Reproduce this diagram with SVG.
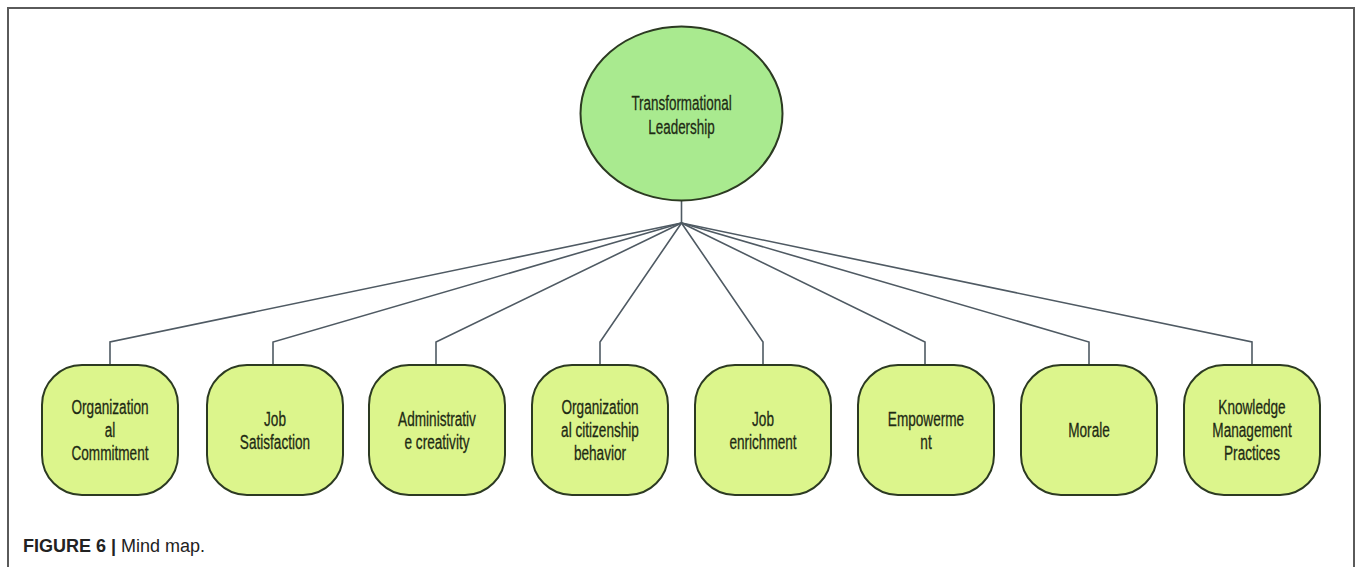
<svg xmlns="http://www.w3.org/2000/svg" width="1358" height="567" viewBox="0 0 1358 567">
<style>
.frame{fill:none;stroke:#5a5a5a;stroke-width:2}
.conn{fill:none;stroke:#4f5a63;stroke-width:1.6}
.root{fill:#a9ea8f;stroke:#2c3a22;stroke-width:2}
.leaf{fill:#dcf58c;stroke:#2c3a22;stroke-width:2}
.t{font-family:"Liberation Sans",Arial,sans-serif;font-size:20px;fill:#1e2a14;text-anchor:middle;stroke:#1e2a14;stroke-width:0.3}
.tr{font-family:"Liberation Sans",Arial,sans-serif;font-size:21px;fill:#1e2a14;text-anchor:middle;stroke:#1e2a14;stroke-width:0.3}
.cap{font-family:"Liberation Sans",Arial,sans-serif;font-size:18px;fill:#222}
</style>
<rect width="1358" height="567" fill="#fff"/>
<path class="frame" d="M8,567 V8 H1354 V567"/>
<g id="connectors">
<path class="conn" d="M681.5,200 V223"/>
<path class="conn" d="M681.5,223 L110,342 V365"/>
<path class="conn" d="M681.5,223 L273,342 V365"/>
<path class="conn" d="M681.5,223 L436,342 V365"/>
<path class="conn" d="M681.5,223 L600,342 V365"/>
<path class="conn" d="M681.5,223 L763,342 V365"/>
<path class="conn" d="M681.5,223 L925,342 V365"/>
<path class="conn" d="M681.5,223 L1089,342 V365"/>
<path class="conn" d="M681.5,223 L1252,342 V365"/>
</g>
<g id="root">
<ellipse class="root" cx="681.5" cy="113.5" rx="101" ry="87"/>
<g transform="translate(681.5,0) scale(0.64,1)">
<text class="tr" x="0" y="110">Transformational</text>
<text class="tr" x="0" y="134">Leadership</text>
</g>
</g>
<g id="n1">
<rect class="leaf" x="42" y="365" width="136" height="130" rx="40" ry="40"/>
<g transform="translate(110,0) scale(0.68,1)">
<text class="t" x="0" y="414">Organization</text>
<text class="t" x="0" y="437">al</text>
<text class="t" x="0" y="460">Commitment</text>
</g>
</g>
<g id="n2">
<rect class="leaf" x="207" y="365" width="136" height="130" rx="40" ry="40"/>
<g transform="translate(275,0) scale(0.68,1)">
<text class="t" x="0" y="426">Job</text>
<text class="t" x="0" y="449">Satisfaction</text>
</g>
</g>
<g id="n3">
<rect class="leaf" x="369" y="365" width="136" height="130" rx="40" ry="40"/>
<g transform="translate(437,0) scale(0.68,1)">
<text class="t" x="0" y="426">Administrativ</text>
<text class="t" x="0" y="449">e creativity</text>
</g>
</g>
<g id="n4">
<rect class="leaf" x="532" y="365" width="136" height="130" rx="40" ry="40"/>
<g transform="translate(600,0) scale(0.68,1)">
<text class="t" x="0" y="414">Organization</text>
<text class="t" x="0" y="437">al citizenship</text>
<text class="t" x="0" y="460">behavior</text>
</g>
</g>
<g id="n5">
<rect class="leaf" x="695" y="365" width="136" height="130" rx="40" ry="40"/>
<g transform="translate(763,0) scale(0.68,1)">
<text class="t" x="0" y="426">Job</text>
<text class="t" x="0" y="449">enrichment</text>
</g>
</g>
<g id="n6">
<rect class="leaf" x="858" y="365" width="136" height="130" rx="40" ry="40"/>
<g transform="translate(926,0) scale(0.68,1)">
<text class="t" x="0" y="426">Empowerme</text>
<text class="t" x="0" y="449">nt</text>
</g>
</g>
<g id="n7">
<rect class="leaf" x="1021" y="365" width="136" height="130" rx="40" ry="40"/>
<g transform="translate(1089,0) scale(0.68,1)">
<text class="t" x="0" y="437">Morale</text>
</g>
</g>
<g id="n8">
<rect class="leaf" x="1184" y="365" width="136" height="130" rx="40" ry="40"/>
<g transform="translate(1252,0) scale(0.68,1)">
<text class="t" x="0" y="414">Knowledge</text>
<text class="t" x="0" y="437">Management</text>
<text class="t" x="0" y="460">Practices</text>
</g>
</g>
<text class="cap" x="23" y="552"><tspan font-weight="bold">FIGURE 6 | </tspan>Mind map.</text>
</svg>
